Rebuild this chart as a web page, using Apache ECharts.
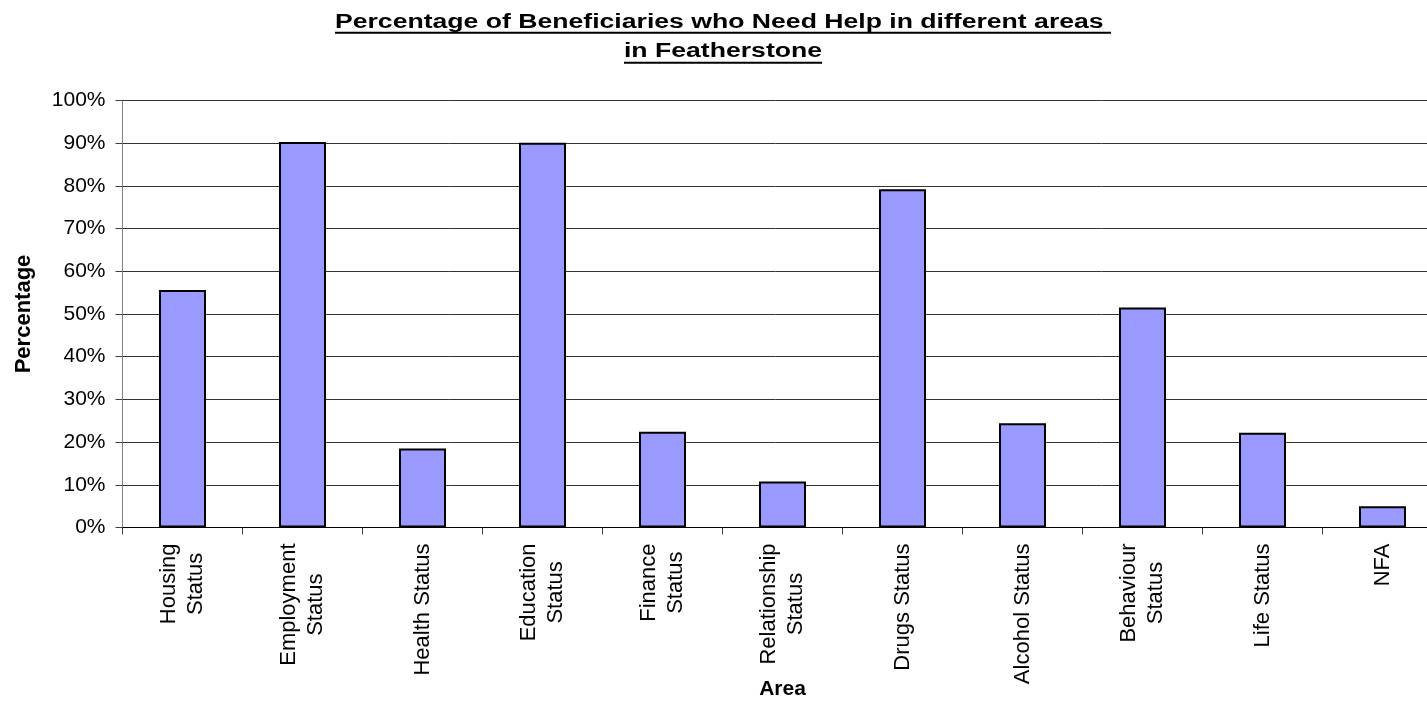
<!DOCTYPE html>
<html><head><meta charset="utf-8">
<script src="https://cdn.jsdelivr.net/npm/echarts@6/dist/echarts.min.js"></script>
<style>html,body{margin:0;padding:0;background:#fff}#c{width:1427px;height:702px}</style>
</head><body><div id="c"></div>
<script>
const titleLines = ['Percentage of Beneficiaries who Need Help in different areas ', 'in Featherstone'];
const categories = ['Housing\nStatus', 'Employment\nStatus', 'Health Status', 'Education\nStatus', 'Finance\nStatus', 'Relationship\nStatus', 'Drugs Status', 'Alcohol Status', 'Behaviour\nStatus', 'Life Status', 'NFA'];
const values = [55.6, 90.3, 18.5, 90.1, 22.4, 10.8, 79.2, 24.4, 51.5, 22.2, 5.0];
const yMin = 0, yMax = 100, yStep = 10;
const yAxisName = 'Percentage';
const xAxisName = 'Area';

const FF = '"Liberation Sans", Arial, sans-serif';
const ctx = document.createElement('canvas').getContext('2d');
ctx.font = 'bold 20px ' + FF;
const w1 = ctx.measureText(titleLines[0]).width;
const w2 = ctx.measureText(titleLines[1]).width;

const chart = echarts.init(document.getElementById('c'), null, {renderer: 'canvas'});
chart.setOption({
  animation: false,
  backgroundColor: '#fff',
  graphic: [{
    type: 'group', x: 723, y: 0, scaleX: 1.33,
    children: [
      {type: 'text', style: {text: titleLines[0], x: 0, y: 22, font: 'bold 20px ' + FF, fill: '#000', align: 'center', verticalAlign: 'middle', textAlign: 'center', textVerticalAlign: 'middle'}},
      {type: 'line', shape: {x1: -w1 / 2, y1: 32.7, x2: w1 / 2, y2: 32.7}, style: {stroke: '#000', lineWidth: 2}},
      {type: 'text', style: {text: titleLines[1], x: 0, y: 51, font: 'bold 20px ' + FF, fill: '#000', align: 'center', verticalAlign: 'middle', textAlign: 'center', textVerticalAlign: 'middle'}},
      {type: 'line', shape: {x1: -w2 / 2, y1: 62.8, x2: w2 / 2, y2: 62.8}, style: {stroke: '#000', lineWidth: 2}}
    ]
  }],
  grid: {left: 122.5, top: 100.5, width: 1320, height: 427, containLabel: false, outerBoundsMode: 'none'},
  xAxis: {
    type: 'category',
    data: categories,
    name: xAxisName,
    nameLocation: 'middle',
    nameGap: 151,
    nameMoveOverlap: false,
    nameTextStyle: {fontFamily: FF, fontWeight: 'bold', fontSize: 21, color: '#000'},
    axisLine: {lineStyle: {color: '#000', width: 1}},
    axisTick: {show: true, length: 7, lineStyle: {color: '#404040'}},
    axisLabel: {
      interval: 0, rotate: 90, margin: 16, hideOverlap: false,
      fontFamily: FF, fontSize: 22, color: '#000', lineHeight: 27,
      formatter: v => v.split('\n').map(s => '{c|' + s + '}').join('\n'),
      rich: {c: {align: 'center', fontFamily: FF, fontSize: 22, lineHeight: 27, color: '#000'}}
    },
    splitLine: {show: false}
  },
  yAxis: {
    type: 'value',
    min: yMin, max: yMax, interval: yStep,
    name: yAxisName,
    nameLocation: 'middle',
    nameGap: 88,
    nameMoveOverlap: false,
    nameTextStyle: {fontFamily: FF, fontWeight: 'bold', fontSize: 22, color: '#000'},
    axisLine: {show: true, lineStyle: {color: '#808080', width: 1}},
    axisTick: {show: true, length: 7, lineStyle: {color: '#404040'}},
    axisLabel: {formatter: '{value}%', margin: 17, fontFamily: FF, fontSize: 21, color: '#000'},
    splitLine: {show: true, lineStyle: {color: '#333', width: 1}}
  },
  series: [{
    type: 'bar',
    data: values,
    barWidth: 47,
    itemStyle: {color: '#9999FF', borderColor: '#000', borderWidth: 2}
  }]
});
</script>
</body></html>
